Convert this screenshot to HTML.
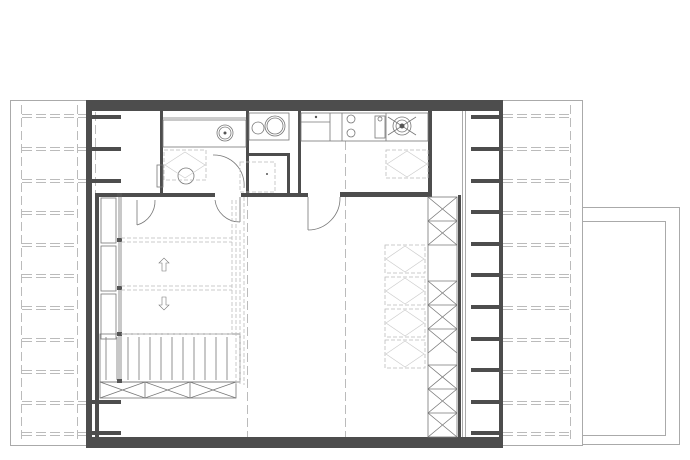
<!DOCTYPE html>
<html><head><meta charset="utf-8"><style>html,body{margin:0;padding:0;background:#fff}svg{display:block}</style></head>
<body>
<svg width="690" height="460" viewBox="0 0 690 460" xmlns="http://www.w3.org/2000/svg">
<g fill="none" stroke="#aaa" stroke-width="1">
  <rect x="10.5" y="100.5" width="76" height="345"/>
  <rect x="502.5" y="100.5" width="80" height="345"/>
  <rect x="582.5" y="207.5" width="97" height="237"/>
  <rect x="582.5" y="221.5" width="83" height="214"/>
  <line x1="462.5" y1="111" x2="462.5" y2="437"/>
  <line x1="465.5" y1="111" x2="465.5" y2="437"/>
</g>
<!-- dashed side beams -->
<g stroke="#bbb" stroke-width="1" stroke-dasharray="9,4" fill="none">
  <line x1="21.5" y1="105" x2="21.5" y2="440"/>
  <line x1="77.5" y1="105" x2="77.5" y2="440"/>
  <line x1="570.5" y1="105" x2="570.5" y2="440"/>
  <line x1="95.5" y1="112" x2="95.5" y2="437"/>
  <line x1="247.5" y1="197" x2="247.5" y2="437"/>
  <line x1="345.5" y1="197" x2="345.5" y2="437"/>
  <line x1="345.5" y1="141" x2="345.5" y2="193"/>
</g>
<g stroke="#bbb" stroke-width="1" stroke-dasharray="10,4" fill="none" id="L">
  <path d="M22 114.5H86M22 117.5H86M22 147.5H86M22 150.5H86M22 179.5H86M22 182.5H86M22 211.5H77M22 214.5H77M22 243.5H77M22 246.5H77M22 274.5H77M22 277.5H77M22 306.5H77M22 309.5H77M22 338.5H77M22 341.5H77M22 370.5H77M22 373.5H77M22 401.5H86M22 404.5H86M22 432.5H86M22 435.5H86"/>
  <path d="M503 114.5H570M503 117.5H570M503 147.5H570M503 150.5H570M503 179.5H570M503 182.5H570M503 211.5H570M503 214.5H570M503 243.5H570M503 246.5H570M503 274.5H570M503 277.5H570M503 306.5H570M503 309.5H570M503 338.5H570M503 341.5H570M503 370.5H570M503 373.5H570M503 401.5H570M503 404.5H570M503 432.5H570M503 435.5H570"/>
</g>
<!-- dark walls -->
<g fill="#4d4d4d">
  <rect x="86" y="100" width="416" height="11"/>
  <rect x="86" y="437" width="416" height="11"/>
  <rect x="86" y="100" width="6" height="348"/>
  <rect x="499" y="100" width="4" height="348"/>
  <rect x="160" y="111" width="3" height="84"/>
  <rect x="95" y="193" width="120" height="4"/>
  <rect x="95" y="193" width="4" height="244"/>
  <rect x="241" y="193" width="67" height="4"/>
  <rect x="340" y="192" width="92" height="5"/>
  <rect x="428" y="111" width="4" height="84"/>
  <rect x="458" y="195" width="3" height="242"/>
  <rect x="246" y="111" width="3" height="82"/>
  <rect x="246" y="153" width="44" height="3"/>
  <rect x="287" y="153" width="3" height="40"/>
  <rect x="298" y="111" width="3" height="82"/>
  <!-- left stubs -->
  <rect x="92" y="115" width="29" height="4"/><rect x="92" y="147" width="29" height="4"/><rect x="92" y="179" width="29" height="4"/>
  <rect x="92" y="400" width="29" height="4"/><rect x="92" y="431" width="29" height="4"/>
  <!-- right stubs -->
  <rect x="471" y="115" width="29" height="4"/><rect x="471" y="147" width="29" height="4"/><rect x="471" y="179" width="29" height="4"/>
  <rect x="471" y="210" width="29" height="4"/><rect x="471" y="242" width="29" height="4"/><rect x="471" y="273" width="29" height="4"/>
  <rect x="471" y="305" width="29" height="4"/><rect x="471" y="337" width="29" height="4"/><rect x="471" y="368" width="29" height="4"/>
  <rect x="471" y="400" width="29" height="4"/><rect x="471" y="431" width="29" height="4"/>
</g>
<!-- fixtures -->
<g fill="none" stroke="#777" stroke-width="0.8">
  <rect x="163" y="120" width="83" height="27"/>
  <line x1="163" y1="118" x2="246" y2="118"/>
  <circle cx="225" cy="133" r="8"/><circle cx="225" cy="133" r="6"/>
  <rect x="249" y="113" width="40" height="27"/>
  <circle cx="258" cy="128" r="6"/><circle cx="275" cy="126" r="10"/><circle cx="275" cy="126" r="8"/>
  <rect x="301" y="113" width="127" height="28"/>
  <line x1="330" y1="113" x2="330" y2="141"/><line x1="342" y1="113" x2="342" y2="141"/>
  <line x1="301" y1="122" x2="330" y2="122"/>
  <circle cx="351" cy="119" r="4"/><circle cx="351" cy="133" r="4"/>
  <rect x="375" y="116" width="10" height="22"/><circle cx="380" cy="119" r="2"/>
  <line x1="386" y1="113" x2="386" y2="141"/>
  <circle cx="402" cy="126" r="9"/><circle cx="402" cy="126" r="6"/>
  <line x1="388" y1="117" x2="416" y2="135"/><line x1="388" y1="135" x2="416" y2="117"/>
  <circle cx="186" cy="176" r="8"/><rect x="157" y="165" width="6" height="22"/>
  <path d="M213 155 A 30 30 0 0 1 244 188"/>
  <path d="M308 230 A 32 32 0 0 0 340 197"/><line x1="308" y1="197" x2="308" y2="230"/>
  <path d="M137 225 A 25 25 0 0 0 155 200"/><line x1="137" y1="200" x2="137" y2="225"/>
  <path d="M215 200 A 25 25 0 0 0 240 222"/><line x1="240" y1="197" x2="240" y2="222"/>
  <!-- stair left strip -->
  <rect x="101" y="198" width="15" height="45"/><rect x="101" y="246" width="15" height="45"/><rect x="101" y="294" width="15" height="45"/>
  <line x1="119" y1="195" x2="119" y2="383"/><line x1="121" y1="195" x2="121" y2="383"/>
  <rect x="100" y="334" width="140" height="48"/>
  <path d="M106 337V380M117 337V380M128 337V380M139 337V380M150 337V380M161 337V380M172 337V380M183 337V380M194 337V380M205 337V380M216 337V380M227 337V380"/>
  <rect x="100" y="382" width="136" height="16"/>
  <path d="M100 382L145 398L190 382L236 398M100 398L145 382L190 398L236 382M145 382V398M190 382V398"/>
  <!-- cross column -->
  <rect x="428" y="197" width="29" height="240"/>
  <path d="M428 221H457M428 245H457M428 281H457M428 305H457M428 329H457M428 365H457M428 389H457M428 413H457"/>
  <path d="M428 197L457 221M457 197L428 221M428 221L457 245M457 221L428 245M428 281L457 305M457 281L428 305M428 305L457 329M457 305L428 329M428 329L457 353M457 329L428 353M428 365L457 389M457 365L428 389M428 389L457 413M457 389L428 413M428 413L457 437M457 413L428 437"/>
  <path d="M162 263v8h4v-8h3l-5-5l-5 5z" stroke-width="0.6"/>
  <path d="M162 305v-8h4v8h3l-5 5l-5-5z" stroke-width="0.6"/>
</g>
<g fill="#555"><circle cx="225" cy="133" r="1.5"/><circle cx="402" cy="126" r="2.5"/><circle cx="316" cy="117" r="1.2"/><circle cx="267" cy="174" r="1"/>
<rect x="117" y="193" width="5" height="4"/><rect x="117" y="238" width="5" height="4"/><rect x="117" y="286" width="5" height="4"/><rect x="117" y="332" width="5" height="4"/><rect x="117" y="379" width="5" height="4"/></g>
<!-- dashed furniture -->
<g fill="none" stroke="#bbb" stroke-width="0.8" stroke-dasharray="4,2">
  <rect x="164" y="150" width="42" height="30"/>
  <rect x="386" y="150" width="42" height="28"/>
  <rect x="385" y="245" width="40" height="28"/><rect x="385" y="277" width="40" height="28"/><rect x="385" y="309" width="40" height="28"/><rect x="385" y="340" width="40" height="28"/>
  <path d="M121 238H232M121 242H232M121 286H232M121 290H232M121 334H232M232 200V334M236 200V385M240 230V385M244 197V385"/>
  <rect x="240" y="162" width="35" height="30"/>
</g>
<g fill="none" stroke="#ccc" stroke-width="0.7">
  <path d="M165 165L185 152L205 165L185 178Z"/><path d="M387 164L407 151L427 164L407 177Z"/>
  <path d="M386 259L405 246L424 259L405 272Z"/><path d="M386 291L405 278L424 291L405 304Z"/><path d="M386 323L405 310L424 323L405 336Z"/><path d="M386 354L405 341L424 354L405 367Z"/>
</g>
</svg>
</body></html>
